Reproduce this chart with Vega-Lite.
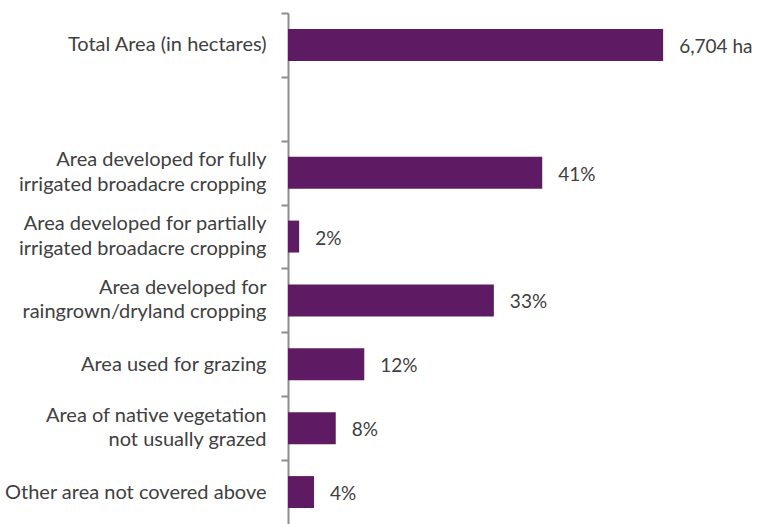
{
  "$schema": "https://vega.github.io/schema/vega-lite/v6.json",
  "width": 470,
  "height": 511,
  "autosize": {"type": "none"},
  "padding": {"left": 288, "top": 13, "right": 0, "bottom": 0},
  "background": "white",
  "config": {
    "view": {"stroke": null},
    "font": "Lato",
    "text": {"font": "Lato"}
  },
  "data": {
    "values": [
      {"category": "Total Area (in hectares)", "value": 60.5, "label": "6,704 ha"},
      {"category": " ", "value": 0, "label": ""},
      {"category": "Area developed for fully\nirrigated broadacre cropping", "value": 41, "label": "41%"},
      {"category": "Area developed for partially\nirrigated broadacre cropping", "value": 1.8, "label": "2%"},
      {"category": "Area developed for\nraingrown/dryland cropping", "value": 33.2, "label": "33%"},
      {"category": "Area used for grazing", "value": 12.3, "label": "12%"},
      {"category": "Area of native vegetation\nnot usually grazed", "value": 7.7, "label": "8%"},
      {"category": "Other area not covered above", "value": 4.2, "label": "4%"}
    ]
  },
  "encoding": {
    "y": {
      "field": "category",
      "type": "nominal",
      "sort": null,
      "scale": {"paddingInner": 0.5, "paddingOuter": 0.25},
      "axis": {
        "title": null,
        "bandPosition": 0,
        "tickOffset": -16,
        "labelOffset": {"condition": {"test": "indexof(datum.label, '\\n') >= 0", "value": 3}, "value": 16},
        "tickSize": 7,
        "tickWidth": 2,
        "tickColor": "#8c8c8c",
        "domainColor": "#8c8c8c",
        "domainWidth": 2,
        "labelPadding": 15,
        "labelFont": "Lato",
        "labelFontSize": 20,
        "labelColor": "#404040",
        "labelLineHeight": 24.5,
        "labelAlign": "right",
        "labelBaseline": "middle",
        "labelLimit": 400,
        "labelExpr": "split(datum.label, '\\n')"
      }
    },
    "x": {
      "field": "value",
      "type": "quantitative",
      "scale": {"domain": [0, 75.8], "nice": false},
      "axis": null
    }
  },
  "layer": [
    {"mark": {"type": "bar", "color": "#5e1a63", "cornerRadius": 0}},
    {
      "mark": {"type": "text", "align": "left", "baseline": "middle", "dx": 16, "dy": 2, "fontSize": 19, "font": "Lato", "color": "#404040"},
      "encoding": {"text": {"field": "label"}}
    }
  ]
}
